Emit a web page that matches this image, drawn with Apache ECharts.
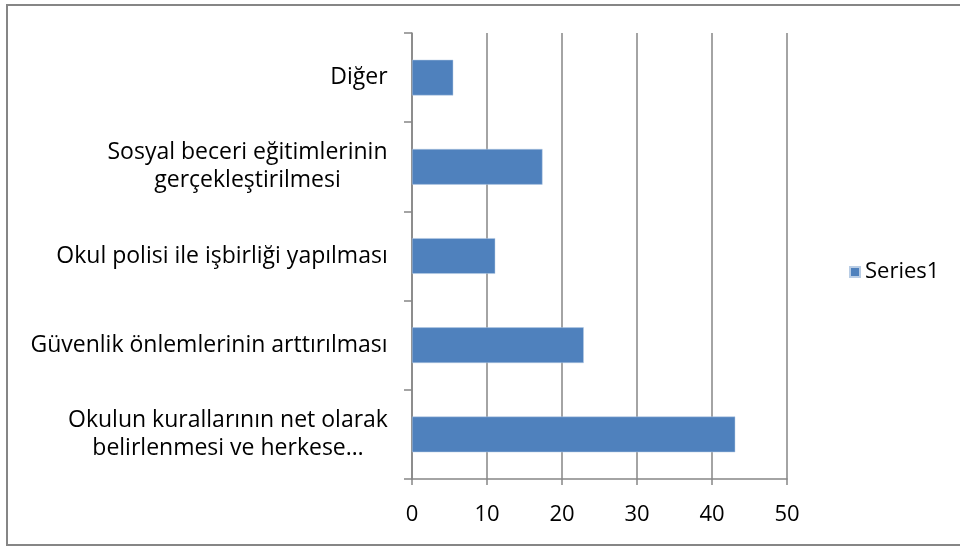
<!DOCTYPE html>
<html>
<head>
<meta charset="utf-8">
<script src="https://cdn.jsdelivr.net/npm/echarts@6/dist/echarts.min.js"></script>
<style>
  html, body { margin: 0; padding: 0; background: #fff; }
  #chart { width: 960px; height: 549px; }
</style>
</head>
<body>
<div id="chart"></div>
<script>
// categories bottom -> top (as the axis draws them)
var categories = [
  'Okulun kurallarının net olarak\nbelirlenmesi ve herkese…',
  'Güvenlik önlemlerinin arttırılması',
  'Okul polisi ile işbirliği yapılması',
  'Sosyal beceri eğitimlerinin\ngerçekleştirilmesi',
  'Diğer'
]
var values = [43.1, 22.9, 11.1, 17.4, 5.5]
var seriesName = 'Series1'
var xTicks = [0, 10, 20, 30, 40, 50]

var FONT = 'Open Sans'
var FS = 23

// measure each label so multi-line labels are centred inside their own block
var ctx = document.createElement('canvas').getContext('2d')
ctx.font = FS + 'px "' + FONT + '"'
var rich = {}
categories.forEach(function (c, i) {
  var w = Math.max.apply(null, c.split('\n').map(function (l) { return ctx.measureText(l).width }))
  rich['c' + i] = { width: Math.ceil(w), align: 'center', fontSize: FS, fontFamily: FONT, color: '#000', lineHeight: 28 }
})

var myChart = echarts.init(document.getElementById('chart'))

var option = {
  backgroundColor: '#fff',
  animation: false,
  graphic: [{
    type: 'rect',
    shape: { x: 7, y: 5, width: 960, height: 540 },
    style: { fill: 'none', stroke: '#868686', lineWidth: 2 }
  }],
  grid: { left: 412, top: 33, right: 173, bottom: 70 },
  legend: {
    data: [seriesName],
    left: 849, top: 261,
    padding: 0,
    itemWidth: 10, itemHeight: 10,
    icon: 'rect',
    textStyle: { fontSize: 22, fontFamily: FONT, color: '#000' }
  },
  xAxis: {
    type: 'value',
    min: xTicks[0],
    max: xTicks[xTicks.length - 1],
    interval: 10,
    axisLine: { show: true, lineStyle: { color: '#868686', width: 1.5 } },
    axisTick: { show: true, length: 6, lineStyle: { color: '#868686', width: 1.5 } },
    axisLabel: { fontSize: FS - 1, fontFamily: FONT, color: '#000', margin: 25 },
    splitLine: { show: true, lineStyle: { color: '#868686', width: 1.5 } }
  },
  yAxis: {
    type: 'category',
    data: categories,
    axisLine: { show: true, lineStyle: { color: '#868686', width: 1.5 } },
    axisTick: { show: true, length: 8, lineStyle: { color: '#868686', width: 1.5 } },
    axisLabel: {
      margin: 24,
      formatter: function (v, i) {
        return v.split('\n').map(function (l) { return '{c' + i + '|' + l + '}' }).join('\n')
      },
      rich: rich
    }
  },
  series: [{
    name: seriesName,
    type: 'bar',
    data: values,
    barCategoryGap: '60%',
    itemStyle: { color: '#4F81BD', borderColor: '#B9CDE5', borderWidth: 0.5 }
  }]
}
myChart.setOption(option)
</script>
</body>
</html>
